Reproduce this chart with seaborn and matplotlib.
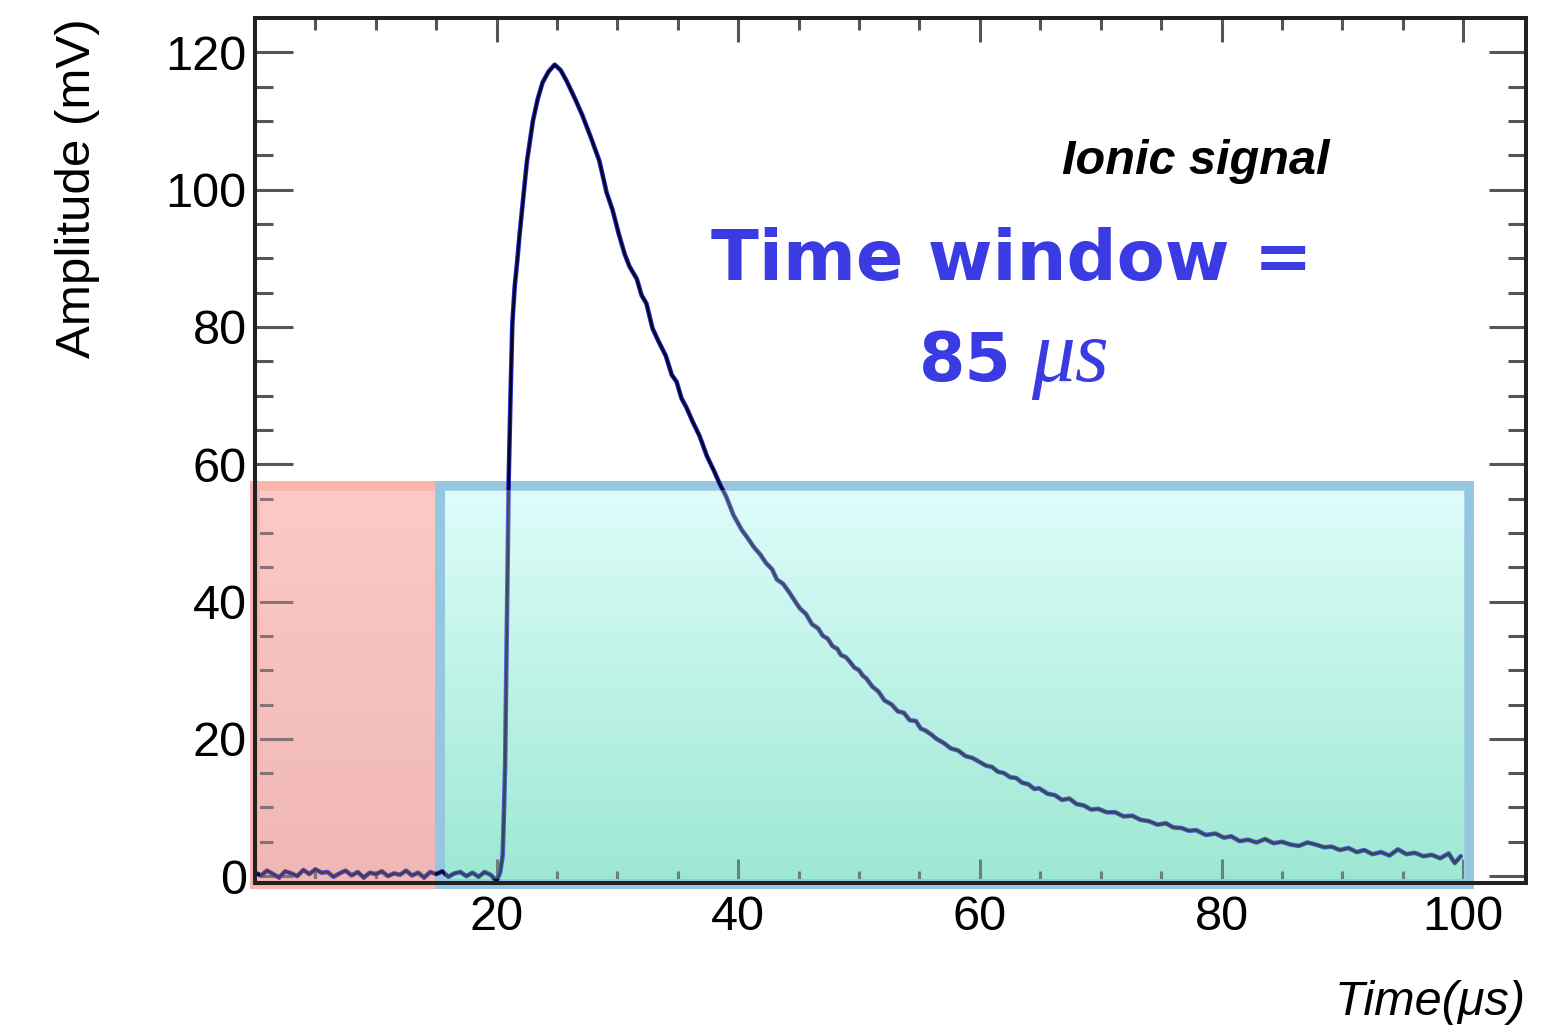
import numpy as np
import seaborn as sns
import matplotlib.pyplot as plt
from matplotlib.patches import Rectangle

# baseline before the pulse (us, mV)
base_t = [0.0, 0.5, 1.0, 1.5, 2.0, 2.5, 3.0, 3.5, 4.0, 4.5,
          5.0, 5.5, 6.0, 6.5, 7.0, 7.5, 8.0, 8.5, 9.0, 9.5,
          10.0, 10.5, 11.0, 11.5, 12.0, 12.5, 13.0, 13.5, 14.0, 14.5,
          15.0, 15.5, 16.0, 16.5, 17.0, 17.5, 18.0, 18.5, 19.0, 19.5,
          20.0]
base_mv = [0.5, 0.1, 0.8, 0.3, -0.2, 0.7, 0.4, 0.0, 0.9, 0.3,
           1.0, 0.5, 0.6, -0.1, 0.4, 0.8, 0.1, 0.6, -0.2, 0.5,
           0.3, 0.7, 0.0, 0.4, 0.2, 0.8, 0.1, 0.5, -0.2, 0.6,
           0.3, 0.7, -0.1, 0.4, 0.6, 0.0, 0.5, -0.1, 0.6, 0.2,
           -0.7]

# ionic pulse
pulse_t = [20.3, 20.5, 20.6, 20.7, 20.8, 20.9, 21.0, 21.15, 21.3, 21.5,
           21.7, 21.9, 22.1, 22.5, 23.0, 23.4, 23.8, 24.3, 24.8, 25.3,
           25.8, 26.5, 27.1, 27.8, 28.5, 29.1, 29.6, 30.1, 30.6, 31.0,
           31.6, 32.0, 32.4, 32.9, 33.4, 34.0, 34.5, 34.9, 35.3, 35.7,
           36.2, 36.8, 37.4, 38.0, 38.5, 39.0, 39.6, 40.3, 40.8, 41.3,
           41.8, 42.3, 42.8, 43.2, 43.7, 44.2, 44.6, 45.1, 45.6, 46.1,
           46.6, 47.0, 47.4, 47.8, 48.2, 48.5, 48.9, 49.2, 49.6, 50.0,
           50.3, 50.6, 51.1, 51.6, 52.1, 52.7, 53.2, 53.7, 54.2, 54.7,
           55.1, 55.5, 56.0, 56.4, 57.0, 57.6, 58.2, 58.8, 59.4, 60.0,
           60.5, 61.0, 61.5, 62.0, 62.5, 63.0, 63.5, 64.0, 64.5, 64.9,
           65.6, 66.2, 66.8, 67.4, 68.0, 68.6, 69.2, 69.8, 70.5, 71.2,
           71.9, 72.6, 73.3, 74.0, 74.7, 75.4, 76.0, 76.7, 77.3, 77.9,
           78.7, 79.5, 80.2, 80.8, 81.5, 82.2, 82.9, 83.6, 84.3, 85.0,
           85.7, 86.4, 87.1, 87.8, 88.5, 89.1, 89.8, 90.5, 91.2, 91.8,
           92.5, 93.2, 93.9, 94.6, 95.3, 96.0, 96.7, 97.4, 98.1, 98.8,
           99.3, 99.8]
pulse_mv = [0.6, 3.0, 9.0, 16.0, 30.0, 45.0, 58.0, 70.0, 80.5, 86.0,
            89.5, 93.5, 97.0, 104.0, 110.0, 113.2, 115.6, 117.2, 118.2, 117.4,
            115.8, 113.2, 110.8, 107.6, 104.2, 99.6, 97.0, 93.6, 90.6, 88.8,
            87.0, 84.6, 83.4, 79.8, 77.9, 75.8, 73.0, 72.0, 69.6, 68.3,
            66.3, 64.1, 61.2, 59.0, 57.0, 55.3, 52.6, 50.4, 49.2, 47.9,
            46.9, 45.6, 44.7, 43.2, 42.6, 41.4, 40.3, 39.0, 38.2, 36.7,
            36.1, 35.0, 34.6, 33.5, 33.1, 32.2, 31.9, 31.3, 30.4, 30.0,
            29.2, 28.8, 27.6, 26.9, 25.6, 25.0, 24.0, 23.8, 22.7, 22.6,
            21.5, 21.2, 20.6, 20.0, 19.4, 18.6, 18.3, 17.5, 17.2, 16.6,
            16.1, 15.9, 15.2, 15.0, 14.4, 14.3, 13.6, 13.4, 12.7, 12.8,
            12.0, 11.8, 11.1, 11.3, 10.5, 10.3, 9.7, 9.8, 9.3, 9.3,
            8.7, 8.8, 8.2, 8.0, 7.5, 7.7, 7.1, 7.0, 6.6, 6.7,
            6.0, 6.2, 5.6, 5.8, 5.1, 5.3, 4.9, 5.4, 4.8, 5.0,
            4.6, 4.4, 4.9, 4.6, 4.2, 4.3, 3.8, 4.1, 3.5, 3.8,
            3.2, 3.5, 3.0, 3.9, 3.2, 3.4, 2.9, 3.1, 2.6, 3.3,
            1.9, 2.9]

# windows (us) and box height (mV)
pre_window = [0.0, 15.3]
time_window = [15.3, 100.5]
box_bottom, box_top = -1.2, 56.8

time_us = base_t + pulse_t
amp_mv = base_mv + pulse_mv

sns.set_theme(style="ticks")
plt.rcParams['font.family'] = ['Liberation Sans', 'DejaVu Sans']
plt.rcParams['text.color'] = 'black'
plt.rcParams['axes.labelcolor'] = 'black'

fig = plt.figure(figsize=(15.68, 10.31), dpi=100)
ax = fig.add_axes([255 / 1568, 148 / 1031, 1271 / 1568, 865 / 1031])


def gradient_box(x0, x1, top_c, bot_c, edge_c):
    # opaque gradient below the trace
    grad = np.linspace(0, 1, 64)[:, None, None]
    img = (1 - grad) * np.array(top_c)[None, None, :] + grad * np.array(bot_c)[None, None, :]
    dx, dy = 0.41, 0.73  # half border width in data units
    ext = (x0 + dx, x1 - dx, box_bottom + dy, box_top - dy)
    ax.imshow(img, extent=ext, aspect='auto', zorder=0.5, interpolation='bilinear')
    # light tint on top so the trace looks "inside" the box
    ax.imshow(img, extent=ext, aspect='auto', zorder=3, alpha=0.3,
              interpolation='bilinear', clip_on=False)
    ax.add_patch(Rectangle((x0, box_bottom), x1 - x0, box_top - box_bottom,
                           fill=False, edgecolor=edge_c, lw=7.2, zorder=0.6,
                           clip_on=False))


gradient_box(pre_window[0], pre_window[1],
             (0.99, 0.79, 0.77), (0.94, 0.72, 0.71), (0.98, 0.71, 0.68))
gradient_box(time_window[0], time_window[1],
             (0.87, 0.99, 0.98), (0.62, 0.91, 0.83), (0.59, 0.78, 0.88))

sns.lineplot(x=time_us, y=amp_mv, ax=ax, estimator=None, sort=False,
             color='#2626cc', lw=3.3, zorder=2)
sns.lineplot(x=time_us, y=amp_mv, ax=ax, estimator=None, sort=False,
             color='#05051a', lw=1.8, zorder=2.1)

ax.set_xlim(0, 105.2)
ax.set_ylim(-1.0, 125)
ax.set_xticks([20, 40, 60, 80, 100])
ax.set_xticks(np.arange(5, 105, 5), minor=True)
ax.set_yticks([0, 20, 40, 60, 80, 100, 120])
ax.set_yticks(np.arange(0, 125, 5), minor=True)

ax.tick_params(which='both', direction='in', top=True, right=True,
               color='#555555', width=2.2, labelsize=35, labelcolor='black')
ax.tick_params(axis='x', which='major', length=17, pad=9)
ax.tick_params(axis='x', which='minor', length=8.5)
ax.tick_params(axis='y', which='major', length=27, pad=6)
ax.tick_params(axis='y', which='minor', length=13)
for s in ax.spines.values():
    s.set_linewidth(2.9)
    s.set_color('#222222')

ax.set_ylabel("Amplitude (mV)", loc='top', fontsize=35.5)
ax.yaxis.set_label_coords(-0.122, 1.0)
ax.set_xlabel("Time(μs)", loc='right', fontsize=35, style='italic')
ax.xaxis.set_label_coords(1.0, -0.112)

ax.text(77.9, 104.1, "Ionic signal", ha='center', va='center', fontsize=35,
        fontweight='bold', style='italic', color='black')
blue = '#3b3be3'
ax.text(62.65, 86.9, "Time window =", ha='center', va='baseline', fontsize=50.5,
        fontweight='bold', family='DejaVu Sans', color=blue)
ax.text(62.6, 72.1, "85", ha='right', va='baseline', fontsize=48,
        fontweight='bold', family='DejaVu Sans', color=blue)
ax.text(64.2, 72.1, "μs", ha='left', va='baseline', fontsize=63,
        style='italic', family='Liberation Serif', color=blue)

fig.savefig('out.png', dpi=100)
